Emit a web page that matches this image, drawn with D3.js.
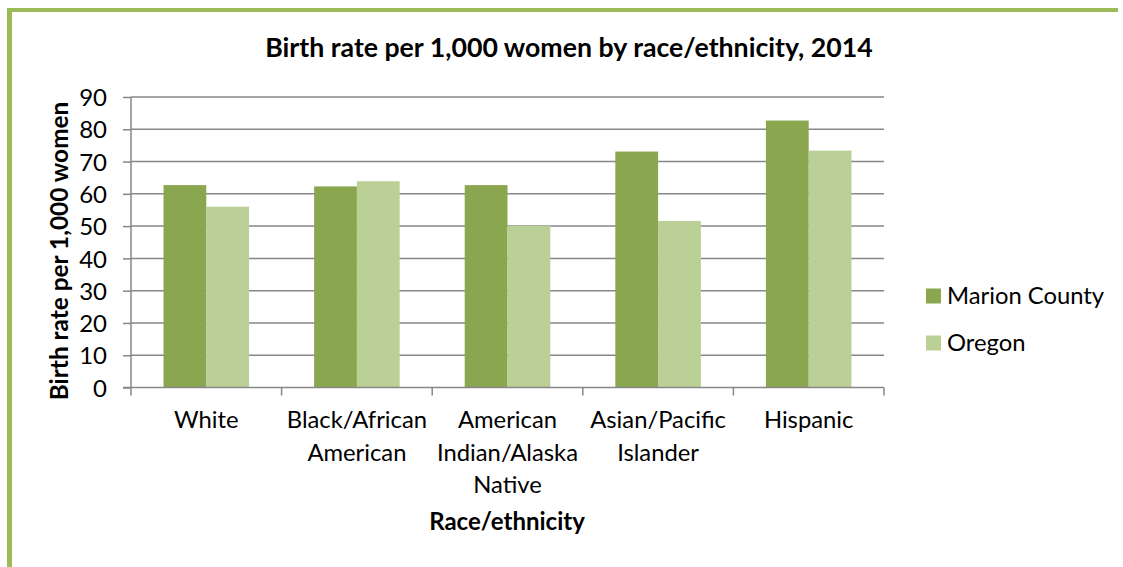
<!DOCTYPE html>
<html><head><meta charset="utf-8">
<script src="https://cdn.jsdelivr.net/npm/d3@7"></script>
<style>body{margin:0;background:#fff}svg{display:block}</style>
</head><body>
<svg id="c" width="1123" height="567"></svg>
<script>
const categories = [["White"],["Black/African","American"],["American","Indian/Alaska","Native"],["Asian/Pacific","Islander"],["Hispanic"]];
const seriesNames = ["Marion County","Oregon"];
const marion = [62.7, 62.3, 62.7, 73.1, 82.7];
const oregon = [56.0, 63.9, 50.1, 51.6, 73.4];
const yTicks = [0,10,20,30,40,50,60,70,80,90];
const colors = ["#8AA64F","#BBD096"];
const font = "Lato, sans-serif";

const svg = d3.select("#c");
// border (top & left)
svg.append("rect").attr("x",7).attr("y",8).attr("width",1111).attr("height",4).attr("fill","#9BBB59");
svg.append("rect").attr("x",7).attr("y",8).attr("width",5).attr("height",559).attr("fill","#9BBB59");

const L=131,R=884,T=97,B=387.5;
const x0 = d3.scaleBand().domain(d3.range(5)).range([L,R]).paddingInner(0).paddingOuter(0);
const x1 = d3.scaleBand().domain([0,1]).range([0,x0.bandwidth()]).paddingInner(0).paddingOuter(0.76);
const y = d3.scaleLinear().domain([0,90]).range([B,T]);

// gridlines
svg.append("g").selectAll("line").data(yTicks.filter(d=>d>0)).join("line")
  .attr("x1",L).attr("x2",R).attr("y1",d=>y(d)).attr("y2",d=>y(d))
  .attr("stroke","#878787").attr("stroke-width",1.5);

// bars
const data = [marion, oregon];
const g = svg.append("g");
data.forEach((vals,si)=>{
  g.selectAll(".b"+si).data(vals).join("rect")
    .attr("x",(d,i)=>x0(i)+x1(si)).attr("width",x1.bandwidth())
    .attr("y",d=>y(d)).attr("height",d=>B-y(d)).attr("fill",colors[si]);
});

// y axis
const ya = d3.axisLeft(y).tickValues(yTicks).tickSize(8).tickPadding(16);
const yg = svg.append("g").attr("transform",`translate(${L},0)`).call(ya);
yg.select(".domain").attr("stroke","#878787").attr("stroke-width",1.5).attr("d",`M0,${T}V${B}`);
yg.selectAll(".tick line").attr("stroke","#878787").attr("stroke-width",1.5);
yg.selectAll("text").attr("font-family",font).attr("font-size",24).attr("fill","#000").attr("dy","0.36em");

// x axis
const xa = svg.append("g");
xa.append("line").attr("x1",L-8).attr("x2",R).attr("y1",B).attr("y2",B).attr("stroke","#878787").attr("stroke-width",1.5);
xa.selectAll(".t").data(d3.range(6)).join("line")
  .attr("x1",i=>L+i*x0.bandwidth()).attr("x2",i=>L+i*x0.bandwidth())
  .attr("y1",B).attr("y2",B+8).attr("stroke","#878787").attr("stroke-width",1.5);
categories.forEach((lines,i)=>{
  const t = svg.append("text").attr("font-family",font).attr("font-size",23.8).attr("text-anchor","middle").attr("fill","#000");
  lines.forEach((ln,j)=>t.append("tspan").attr("x",x0(i)+x0.bandwidth()/2).attr("y",428+j*32.5).text(ln));
});

// titles
svg.append("text").attr("x",569).attr("y",57).attr("text-anchor","middle").attr("font-family",font)
  .attr("font-weight","bold").attr("font-size",26.7).text("Birth rate per 1,000 women by race/ethnicity, 2014");
svg.append("text").attr("x",507).attr("y",530).attr("text-anchor","middle").attr("font-family",font)
  .attr("font-weight","bold").attr("font-size",24).text("Race/ethnicity");
svg.append("text").attr("transform","translate(68,251) rotate(-90)").attr("text-anchor","middle").attr("font-family",font)
  .attr("font-weight","bold").attr("font-size",24.4).text("Birth rate per 1,000 women");

// legend
const lg = svg.append("g");
seriesNames.forEach((n,i)=>{
  const cy = 296 + i*47;
  lg.append("rect").attr("x",926).attr("y",cy-7.5).attr("width",15).attr("height",15).attr("fill",colors[i]);
  lg.append("text").attr("x",947).attr("y",cy).attr("dy","0.33em").attr("font-family",font).attr("font-size",23.8).text(n);
});
</script>
</body></html>
